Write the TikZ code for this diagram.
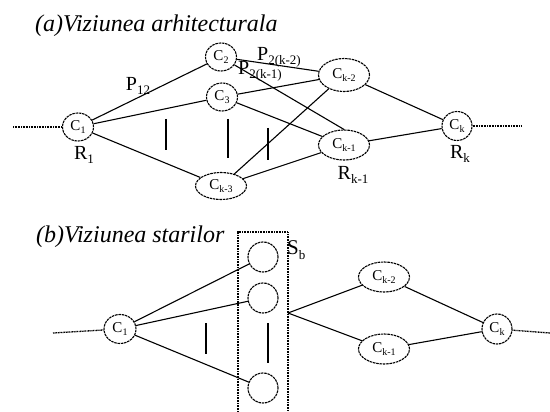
\documentclass[tikz,border=0pt]{standalone}
\usepackage{fontspec}
\setmainfont{Liberation Serif}
\usetikzlibrary{shapes.geometric}

\newcommand{\cname}[1]{C\raisebox{-0.35ex}{\fontsize{10}{10}\selectfont #1}}
\newcommand{\lbl}[2]{#1\raisebox{-0.45ex}{\fontsize{13}{13}\selectfont #2}}

\begin{document}
\begin{tikzpicture}[x=1pt, y=-1pt,
    stare/.style={draw, ellipse, dash pattern=on 2.5pt off 0.8pt, line width=1.1pt, inner sep=0pt,
      minimum width=31pt, minimum height=28pt, font=\fontsize{15}{15}\selectfont},
    lat/.style={stare, minimum width=51pt, minimum height=30pt},
    muchie/.style={line width=1.1pt},
    intrare/.style={line width=1.3pt, dash pattern=on 1pt off 0.6pt},
    titlu/.style={anchor=base west, inner sep=0pt, font=\fontsize{24}{24}\selectfont\itshape},
    eticheta/.style={inner sep=0pt, font=\fontsize{20}{20}\selectfont}]
  \useasboundingbox (0,0) rectangle (550,412);

  % (a) arhitectura
  \node[titlu] (ta) at (35,32) {(a)Viziunea arhitecturala};
  \node[stare] (c1) at (78,127) {\cname{1}};
  \node[stare] (c2) at (221,57) {\cname{2}};
  \node[stare] (c3) at (222,97) {\cname{3}};
  \node[lat, minimum height=27pt] (ck3) at (221,186) {\cname{k-3}};
  \node[lat, minimum height=33pt] (ck2) at (344,75) {\cname{k-2}};
  \node[lat] (ck1) at (344,145) {\cname{k-1}};
  \node[stare, minimum width=30pt, minimum height=29pt] (ck) at (457,126) {\cname{k}};
  \coordinate (ina) at (13,127);
  \coordinate (outa) at (522,126);

  \draw[intrare] (ina) -- (c1);
  \draw[intrare] (ck) -- (outa);
  \draw[muchie] (c1) -- (c2);
  \draw[muchie] (c1) -- (c3);
  \draw[muchie] (c1) -- (ck3);
  \draw[muchie] (c2) -- (ck2);
  \draw[muchie] (c2) -- (ck1.north);
  \draw[muchie] (c3) -- (ck2);
  \draw[muchie] (c3) -- (ck1);
  \draw[muchie] (ck3) -- (ck2);
  \draw[muchie] (ck3) -- (ck1);
  \draw[muchie] (ck2) -- (ck);
  \draw[muchie] (ck1) -- (ck);
  % liniute verticale
  \draw[muchie] (166,119) -- (166,150);
  \draw[muchie] (228,119) -- (228,158);
  \draw[muchie] (268,128) -- (268,160);

  \node[eticheta] (p12) at (138,86) {\lbl{P}{12}};
  \node[eticheta, anchor=west] (p2k2) at (257,57) {\lbl{P}{2(k-2)}};
  \node[eticheta, anchor=west] (p2k1) at (238,71) {\lbl{P}{2(k-1)}};
  \node[eticheta] (r1) at (84,155) {\lbl{R}{1}};
  \node[eticheta] (rk1) at (353,175) {\lbl{R}{k-1}};
  \node[eticheta] (rk) at (460,154) {\lbl{R}{k}};

  % (b) stari
  \node[titlu] (tb) at (36,242) {(b)Viziunea starilor};
  \draw[intrare] (238,412) -- (238,232) -- (288,232) -- (288,412);
  \node[eticheta, anchor=west, font=\fontsize{21}{21}\selectfont] (sb) at (287,250) {\lbl{S}{b}};
  \node[stare, minimum width=30pt, minimum height=30pt] (s1) at (263,257) {};
  \node[stare, minimum width=30pt, minimum height=30pt] (s2) at (263,298) {};
  \node[stare, minimum width=30pt, minimum height=30pt] (s3) at (263,388) {};
  \node[stare, minimum width=32pt, minimum height=29pt] (b1) at (120,329) {\cname{1}};
  \node[lat] (bk2) at (384,277) {\cname{k-2}};
  \node[lat] (bk1) at (384,349) {\cname{k-1}};
  \node[stare, minimum width=30pt, minimum height=30pt] (bk) at (497,329) {\cname{k}};
  \coordinate (inb) at (53,333);
  \coordinate (outb) at (550,333);
  \coordinate (iesb) at (288,313);

  \draw[intrare] (inb) -- (b1);
  \draw[intrare] (bk) -- (outb);
  \draw[muchie] (b1) -- (s1);
  \draw[muchie] (b1) -- (s2);
  \draw[muchie] (b1) -- (s3);
  \draw[muchie] (iesb) -- (bk2);
  \draw[muchie] (iesb) -- (bk1);
  \draw[muchie] (bk2) -- (bk);
  \draw[muchie] (bk1) -- (bk);
  \draw[muchie] (206,323) -- (206,354);
  \draw[muchie] (268,323) -- (268,363);
\end{tikzpicture}
\end{document}
